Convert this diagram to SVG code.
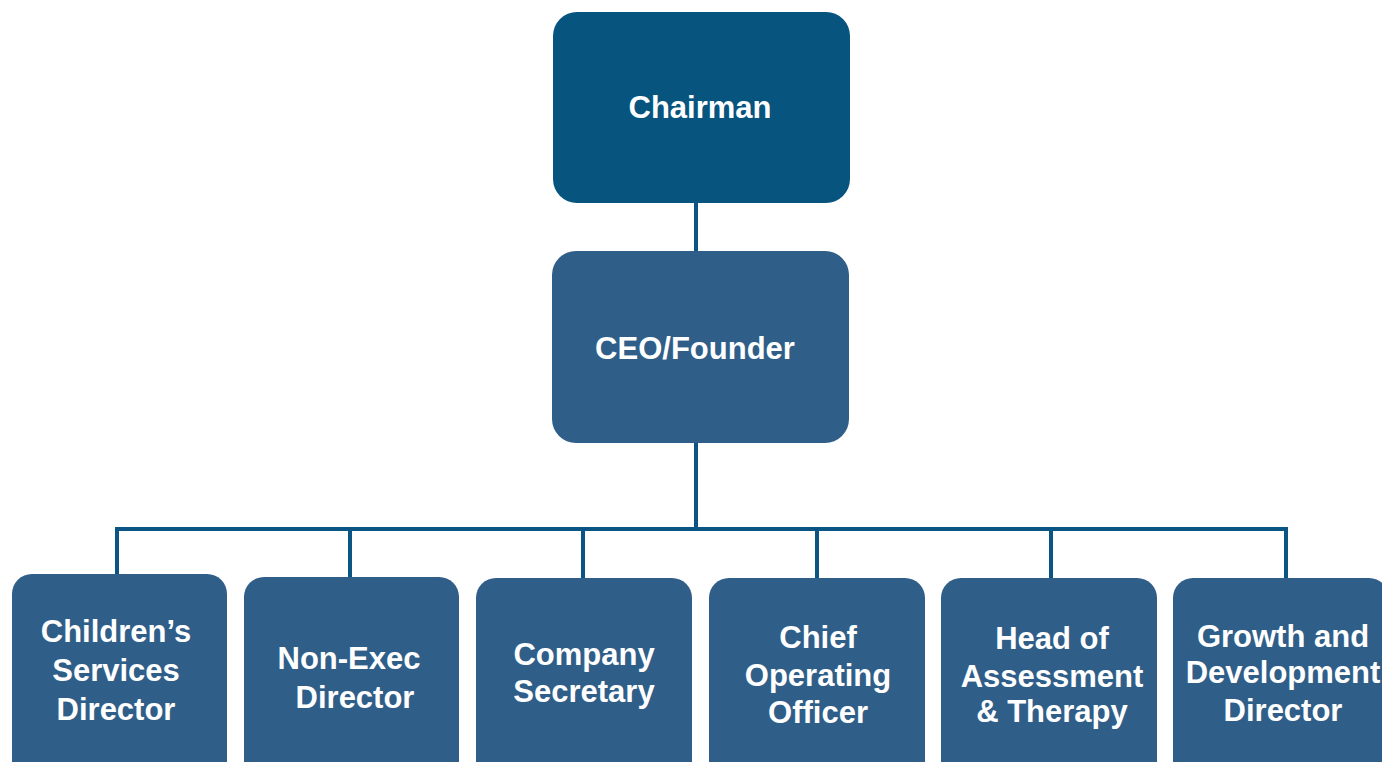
<svg xmlns="http://www.w3.org/2000/svg" width="1382" height="762" viewBox="0 0 1382 762">
<style>
.top{fill:#07547F}
.box{fill:#2F5E89}
.lbl{font-family:"Liberation Sans",Arial,sans-serif;font-weight:bold;font-size:31px;fill:#FFFFFF;text-anchor:middle}
.con{stroke:#0A5584;stroke-width:4;fill:none}
</style>
<rect width="1382" height="762" fill="#FFFFFF"/>
<g id="connectors">
<line class="con" x1="696" y1="203" x2="696" y2="252"/>
<line class="con" x1="696" y1="442" x2="696" y2="529"/>
<polyline class="con" points="117,576 117,529 1286,529 1286,580"/>
<line class="con" x1="350" y1="529" x2="350" y2="579"/>
<line class="con" x1="583" y1="529" x2="583" y2="580"/>
<line class="con" x1="817" y1="529" x2="817" y2="580"/>
<line class="con" x1="1051" y1="529" x2="1051" y2="580"/>
</g>
<g id="chairman">
<rect class="top" x="553" y="12" width="297" height="191" rx="24"/>
<text class="lbl" x="700" y="118">Chairman</text>
</g>
<g id="ceo">
<rect class="box" x="552" y="251" width="297" height="192" rx="24"/>
<text class="lbl" x="695" y="359">CEO/Founder</text>
</g>
<g id="childrens-services">
<rect class="box" x="12" y="574" width="215" height="220" rx="20"/>
<text class="lbl" x="116" y="642">Children’s</text>
<text class="lbl" x="116" y="681">Services</text>
<text class="lbl" x="116" y="720">Director</text>
</g>
<g id="non-exec">
<rect class="box" x="244" y="577" width="215" height="220" rx="20"/>
<text class="lbl" x="349" y="669">Non-Exec</text>
<text class="lbl" x="355" y="708">Director</text>
</g>
<g id="company-secretary">
<rect class="box" x="476" y="578" width="216" height="220" rx="20"/>
<text class="lbl" x="584" y="665">Company</text>
<text class="lbl" x="584" y="702">Secretary</text>
</g>
<g id="coo">
<rect class="box" x="709" y="578" width="216" height="220" rx="20"/>
<text class="lbl" x="818" y="648">Chief</text>
<text class="lbl" x="818" y="686">Operating</text>
<text class="lbl" x="818" y="723">Officer</text>
</g>
<g id="head-assessment">
<rect class="box" x="941" y="578" width="216" height="220" rx="20"/>
<text class="lbl" x="1052" y="649">Head of</text>
<text class="lbl" x="1052" y="687">Assessment</text>
<text class="lbl" x="1052" y="722">&amp; Therapy</text>
</g>
<g id="growth-development">
<rect class="box" x="1173" y="578" width="216" height="220" rx="20"/>
<text class="lbl" x="1283" y="647">Growth and</text>
<text class="lbl" x="1283" y="683">Development</text>
<text class="lbl" x="1283" y="721">Director</text>
</g>
</svg>
